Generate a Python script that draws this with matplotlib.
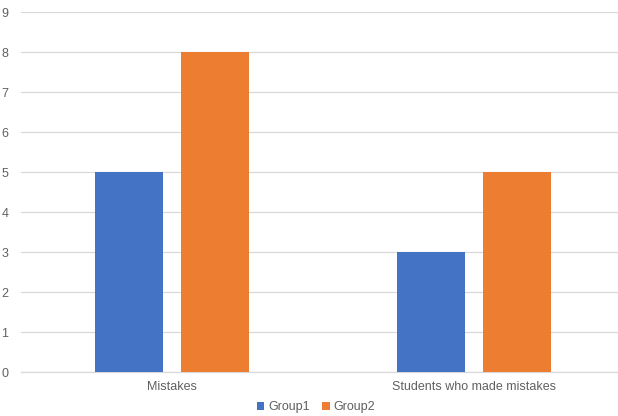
import matplotlib
matplotlib.use("Agg")
import matplotlib.pyplot as plt
import numpy as np

categories = ["Mistakes", "Students who made mistakes"]
group1 = [5, 3]
group2 = [8, 5]
series_names = ["Group1", "Group2"]
colors = ["#4472C4", "#ED7D31"]
yticks = list(range(0, 10))

plt.rcParams['font.family'] = ['Liberation Sans', 'DejaVu Sans']

fig = plt.figure(figsize=(6.18, 4.16), dpi=100)
ax = fig.add_axes([21/618, 43.7/416, 604/618, 360/416])

x = np.arange(len(categories))
w = 0.225
off = 0.142
b1 = ax.bar(x - off, group1, w, color=colors[0], label=series_names[0], zorder=3)
b2 = ax.bar(x + off, group2, w, color=colors[1], label=series_names[1], zorder=3)

ax.set_xlim(-0.5, 1.5)
ax.set_ylim(0, 9)
ax.set_yticks(yticks)
ax.yaxis.grid(True, color="#d9d9d9", linewidth=0.9, zorder=0)
ax.set_axisbelow(True)
for s in ["top", "right", "left"]:
    ax.spines[s].set_visible(False)
ax.spines["bottom"].set_color("#d9d9d9")
ax.spines["bottom"].set_linewidth(0.9)
ax.set_xticks(x)
ax.set_xticklabels(categories)
ax.tick_params(axis="both", length=0, colors="#606060", labelsize=9)
ax.tick_params(axis="x", pad=6)
ax.tick_params(axis="y", pad=9)

fig.legend(handles=[b1, b2], loc="center", bbox_to_anchor=(316/618, 1 - 407/416),
           ncol=2, frameon=False, fontsize=9, labelcolor="#606060",
           handlelength=0.6, handleheight=0.6, handletextpad=0.3, columnspacing=1.0)

fig.savefig("out.png", dpi=100)
